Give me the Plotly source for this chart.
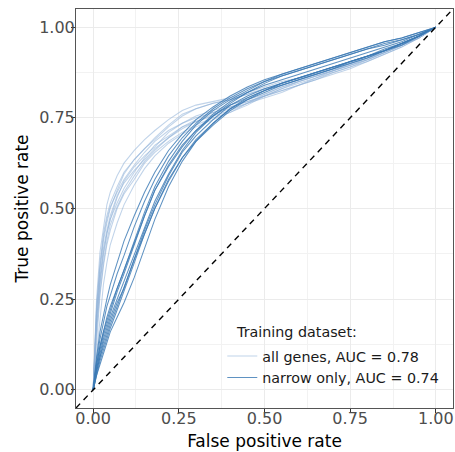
import plotly.graph_objects as go

# shared false-positive-rate grid for all curves
fpr = [0, 0.005, 0.01, 0.02, 0.03, 0.04, 0.05, 0.07, 0.09, 0.12, 0.15, 0.18, 0.22, 0.26,
       0.3, 0.35, 0.4, 0.45, 0.5, 0.55, 0.6, 0.65, 0.7, 0.75, 0.8, 0.85, 0.9, 0.95, 1.0]

# "all genes" replicate curves (true positive rate)
all_genes = [
    [0, .14, .25, .38, .45, .51, .545, .59, .625, .66, .69, .715, .745, .77, .785, .795, .805, .82, .835, .85, .86, .875, .89, .90, .915, .935, .955, .975, 1],
    [0, .11, .21, .33, .41, .46, .50, .55, .595, .635, .665, .695, .73, .76, .775, .79, .80, .815, .83, .84, .855, .87, .885, .90, .92, .935, .95, .97, 1],
    [0, .08, .17, .29, .37, .43, .47, .515, .555, .60, .64, .675, .70, .725, .74, .755, .77, .79, .81, .83, .845, .86, .88, .895, .91, .93, .95, .97, 1],
    [0, .10, .19, .30, .38, .43, .47, .53, .575, .615, .645, .67, .71, .735, .755, .77, .785, .80, .815, .835, .85, .865, .88, .895, .91, .93, .95, .975, 1],
    [0, .07, .14, .26, .34, .40, .44, .50, .54, .58, .625, .655, .685, .71, .73, .75, .765, .785, .81, .83, .85, .865, .88, .90, .92, .935, .955, .975, 1],
    [0, .12, .22, .34, .42, .47, .505, .545, .58, .62, .655, .685, .715, .735, .75, .765, .78, .795, .81, .825, .84, .855, .87, .885, .905, .925, .945, .97, 1],
    [0, .05, .11, .21, .29, .35, .40, .46, .51, .565, .61, .645, .68, .705, .725, .745, .765, .79, .815, .835, .85, .865, .88, .895, .915, .935, .955, .975, 1],
    [0, .09, .19, .31, .39, .44, .48, .535, .57, .605, .635, .665, .695, .72, .74, .76, .775, .79, .805, .82, .84, .855, .875, .89, .91, .93, .95, .97, 1],
    [0, .08, .16, .27, .35, .41, .455, .505, .545, .59, .63, .66, .695, .725, .745, .765, .78, .795, .81, .825, .84, .86, .875, .89, .905, .925, .945, .97, 1],
    [0, .12, .23, .35, .43, .48, .515, .56, .60, .635, .665, .69, .725, .755, .775, .79, .80, .815, .83, .845, .86, .87, .885, .90, .915, .93, .95, .975, 1],
]

# "narrow only" replicate curves (true positive rate)
narrow_only = [
    [0, .05, .09, .16, .21, .25, .29, .35, .41, .48, .545, .60, .66, .705, .745, .78, .81, .835, .855, .87, .885, .90, .915, .93, .945, .96, .97, .985, 1],
    [0, .04, .07, .12, .16, .19, .22, .28, .33, .41, .49, .56, .63, .685, .73, .77, .80, .825, .85, .865, .88, .895, .91, .925, .94, .95, .965, .98, 1],
    [0, .03, .06, .10, .14, .17, .20, .25, .30, .37, .45, .52, .595, .66, .71, .755, .79, .82, .84, .855, .87, .885, .90, .915, .93, .945, .96, .98, 1],
    [0, .02, .05, .09, .12, .15, .18, .23, .28, .36, .44, .51, .59, .655, .70, .745, .785, .81, .83, .845, .86, .875, .89, .905, .92, .935, .955, .975, 1],
    [0, .02, .04, .08, .11, .14, .17, .22, .27, .35, .43, .50, .58, .64, .69, .735, .775, .805, .825, .845, .86, .875, .89, .905, .92, .94, .955, .975, 1],
    [0, .04, .07, .12, .16, .20, .23, .28, .33, .41, .48, .55, .615, .67, .715, .76, .795, .82, .845, .865, .88, .895, .91, .925, .94, .955, .965, .98, 1],
    [0, .02, .04, .07, .10, .13, .16, .20, .24, .31, .39, .47, .56, .63, .685, .735, .775, .80, .825, .845, .86, .875, .89, .905, .92, .935, .955, .975, 1],
    [0, .03, .06, .11, .15, .18, .21, .27, .32, .40, .48, .55, .62, .675, .715, .755, .785, .805, .825, .84, .855, .87, .885, .90, .915, .935, .95, .975, 1],
    [0, .03, .05, .09, .13, .16, .19, .24, .28, .36, .43, .50, .575, .64, .685, .73, .77, .80, .82, .84, .855, .87, .885, .905, .92, .935, .955, .975, 1],
    [0, .04, .08, .14, .19, .23, .26, .32, .37, .45, .52, .58, .645, .695, .735, .775, .805, .83, .85, .87, .885, .90, .915, .93, .945, .96, .97, .985, 1],
]

group_names = ["all genes, AUC = 0.78", "narrow only, AUC = 0.74"]
group_colors = ["rgba(140,175,215,0.55)", "rgba(60,122,180,0.82)"]
legend_title = "Training dataset:"
x_title = "False positive rate"
y_title = "True positive rate"
tick_vals = [0, 0.25, 0.5, 0.75, 1.0]
tick_text = ["0.00", "0.25", "0.50", "0.75", "1.00"]
axis_range = [-0.05, 1.05]

FONT = "DejaVu Sans"
fig = go.Figure()

for g, (curves, name, col) in enumerate(zip([all_genes, narrow_only], group_names, group_colors)):
    for i, tpr in enumerate(curves):
        fig.add_trace(go.Scatter(
            x=fpr, y=tpr, mode="lines", name=name, legendgroup=name,
            showlegend=(i == 0), line=dict(color=col, width=1.05), hoverinfo="skip"))

# diagonal reference line y = x across the whole panel
fig.add_trace(go.Scatter(x=axis_range, y=axis_range, mode="lines", showlegend=False,
                         line=dict(color="black", width=1.4, dash="6px,5px"), hoverinfo="skip"))

axis_common = dict(
    range=axis_range, tickvals=tick_vals, ticktext=tick_text, automargin=False,
    showgrid=True, gridcolor="#ebebeb", gridwidth=1.1,
    minor=dict(showgrid=True, gridcolor="#f2f2f2", gridwidth=0.6, dtick=0.125, tick0=0.125),
    zeroline=False, showline=True, mirror=True, linecolor="#555555", linewidth=1,
    ticks="outside", ticklen=4, tickcolor="#333333", tickwidth=1,
    tickfont=dict(family=FONT, size=16, color="#4d4d4d"),
    title_font=dict(family=FONT, size=17, color="black"),
)

fig.update_xaxes(**axis_common, title_text=x_title, title_standoff=7, ticklabelstandoff=-8)
fig.update_yaxes(**axis_common, title_text=y_title, title_standoff=6, ticklabelstandoff=-7)

# legend background box covering gridlines
fig.add_shape(type="rect", xref="paper", yref="paper", x0=0.387, x1=0.992, y0=0.033, y1=0.228,
              fillcolor="white", line=dict(width=0), layer="between")

fig.add_annotation(text=legend_title, xref="paper", yref="paper", x=0.419, y=0.19,
                   xanchor="left", yanchor="middle", showarrow=False,
                   font=dict(family=FONT, size=14.3, color="#1a1a1a"))

fig.update_layout(
    width=455, height=452,
    margin=dict(l=76, r=2, t=9, b=44),
    paper_bgcolor="white", plot_bgcolor="white",
    font=dict(family=FONT),
    legend=dict(
        font=dict(family=FONT, size=14.3, color="#1a1a1a"),
        x=0.388, y=0.17, xanchor="left", yanchor="top",
        bgcolor="rgba(0,0,0,0)", tracegroupgap=0, itemwidth=30,
    ),
)

fig.write_html("out.html", config={"displayModeBar": False},
               post_script="document.body.style.margin='0';")
